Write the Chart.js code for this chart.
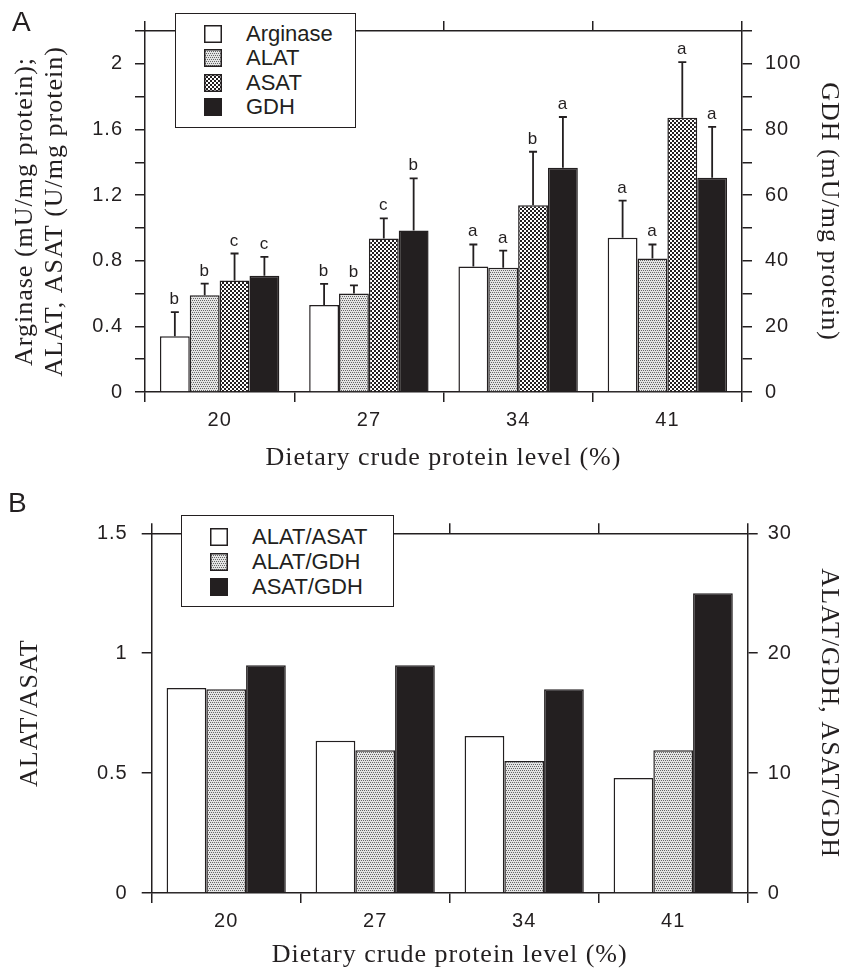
<!DOCTYPE html>
<html>
<head>
<meta charset="utf-8">
<script src="https://cdn.jsdelivr.net/npm/chart.js@4.4.1/dist/chart.umd.min.js"></script>
<style>
  body { margin: 0; background: #fff; }
  #wrap { position: relative; width: 842px; height: 975px; overflow: hidden; }
  canvas.plot { position: absolute; left: 0; }
  .panel { position: absolute; font: 28px "Liberation Sans", Arial, sans-serif; line-height: 1; color: #231f20; }
  .legend { position: absolute; background: #fff; border: 1.5px solid #231f20; box-sizing: border-box;
            font: 22px "Liberation Sans", Arial, sans-serif; color: #231f20; }
  .legend .row { position: absolute; height: 22px; line-height: 22px; white-space: nowrap; }
  .legend canvas { position: absolute; top: 2px; }
  .legend span { position: absolute; }
</style>
</head>
<body>
<div id="wrap">
  <canvas id="chartA" class="plot" width="842" height="490" style="top:0"></canvas>
  <canvas id="chartB" class="plot" width="842" height="485" style="top:490px"></canvas>
  <div class="panel" style="left:12px; top:8px">A</div>
  <div class="panel" style="left:8px; top:489px">B</div>
  <div id="legA" class="legend" style="left:175px; top:13px; width:181px; height:115px"></div>
  <div id="legB" class="legend" style="left:181px; top:515px; width:213px; height:92px"></div>
</div>
<script>
const INK = "#231f20";
const SERIF = '"Liberation Serif", "Times New Roman", serif';
const SANS = '"Liberation Sans", Arial, sans-serif';

const categories = ["20", "27", "34", "41"];

// panel A: enzyme activities, mean and error (SE)
const arginase = [0.34, 0.53, 0.765, 0.94];
const arginaseErr = [0.147, 0.129, 0.134, 0.226];
const alat = [0.59, 0.6, 0.757, 0.813];
const alatErr = [0.07, 0.05, 0.105, 0.086];
const asat = [0.679, 0.936, 1.138, 1.672];
const asatErr = [0.165, 0.122, 0.326, 0.338];
const gdh = [35.4, 49.2, 68.3, 65.3];
const gdhErr = [5.8, 15.9, 15.5, 15.5];

const arginaseLetters = ["b", "b", "a", "a"];
const alatLetters = ["b", "b", "a", "a"];
const asatLetters = ["c", "c", "b", "a"];
const gdhLetters = ["c", "b", "a", "a"];

const leftLabelsA = [0, 0.4, 0.8, 1.2, 1.6, 2];
const rightLabelsA = [0, 20, 40, 60, 80, 100];

// panel B: ratios
const alatAsat = [0.855, 0.635, 0.655, 0.48];
const alatGdh = [17.0, 11.9, 11.0, 11.9];
const asatGdh = [19.0, 19.0, 17.0, 25.0];

const leftLabelsB = [0, 0.5, 1, 1.5];
const rightLabelsB = [0, 10, 20, 30];

// small tiles used as bar fills
function makeTile(kind) {
  const c = document.createElement("canvas");
  c.width = 4; c.height = 4;
  const g = c.getContext("2d");
  if (kind === "stipple") {
    g.fillStyle = "#e4e4e4";
    g.fillRect(0, 0, 4, 4);
    g.fillStyle = "#666";
    g.fillRect(0, 0, 1, 1); g.fillRect(2, 0, 1, 1);
    g.fillRect(1, 2, 1, 1); g.fillRect(3, 2, 1, 1);
  } else {
    g.fillStyle = "#fff";
    g.fillRect(0, 0, 4, 4);
    g.fillStyle = INK;
    g.fillRect(0, 0, 2, 2); g.fillRect(2, 2, 2, 2);
  }
  return c;
}
const stippleTile = makeTile("stipple");
const checkTile = makeTile("check");

function fill(ctx, f) {
  if (f === "stipple") return ctx.createPattern(stippleTile, "repeat");
  if (f === "check") return ctx.createPattern(checkTile, "repeat");
  return f;
}

function labelCb(list) {
  return v => {
    const hit = list.find(t => Math.abs(t - v) < 1e-6);
    return hit === undefined ? "" : String(hit);
  };
}

const errorBars = {
  id: "errorBars",
  afterDatasetsDraw(chart) {
    const ctx = chart.ctx;
    ctx.save();
    ctx.strokeStyle = INK;
    ctx.fillStyle = INK;
    ctx.lineWidth = 1.8;
    ctx.font = "17px " + SANS;
    ctx.textAlign = "center";
    ctx.textBaseline = "alphabetic";
    chart.data.datasets.forEach((ds, i) => {
      if (!ds.errors) return;
      const scale = chart.scales[ds.yAxisID];
      chart.getDatasetMeta(i).data.forEach((bar, j) => {
        const yTop = scale.getPixelForValue(ds.data[j] + ds.errors[j]);
        ctx.beginPath();
        ctx.moveTo(bar.x, bar.y);
        ctx.lineTo(bar.x, yTop);
        ctx.moveTo(bar.x - 4, yTop);
        ctx.lineTo(bar.x + 4, yTop);
        ctx.stroke();
        if (ds.letters) ctx.fillText(ds.letters[j], bar.x, yTop - 8);
      });
    });
    ctx.restore();
  }
};

// the original lettering is widely spaced
const spacing = {
  id: "spacing",
  beforeDraw(chart) { chart.ctx.letterSpacing = "1px"; }
};

function lineAxis(extra) {
  return Object.assign({
    grid: { drawOnChartArea: false, tickLength: 10, color: INK, lineWidth: 1.5 },
    border: { display: true, color: INK, width: 1.5 }
  }, extra);
}

function buildChart(id, cfg) {
  const ctx = document.getElementById(id).getContext("2d");
  return new Chart(ctx, {
    type: "bar",
    data: {
      labels: categories,
      datasets: cfg.datasets.map(d => ({
        label: d.label,
        data: d.data,
        errors: d.errors,
        letters: d.letters,
        yAxisID: d.axis,
        fillKind: d.fill,
        backgroundColor: fill(ctx, d.fill),
        borderColor: INK,
        borderWidth: 1.5,
        categoryPercentage: 0.8,
        barPercentage: 1
      }))
    },
    options: {
      responsive: false,
      animation: false,
      devicePixelRatio: 1,
      layout: { padding: cfg.padding },
      plugins: { legend: { display: false }, tooltip: { enabled: false } },
      scales: {
        x: lineAxis({
          type: "category",
          position: "bottom",
          offset: true,
          grid: { offset: true, drawOnChartArea: false, tickLength: 10, color: INK, lineWidth: 1.5 },
          ticks: { color: INK, font: { family: SANS, size: 20 }, padding: 6, maxRotation: 0 },
          title: {
            display: true, text: "Dietary crude protein level (%)", color: INK,
            font: { family: SERIF, size: 26, lineHeight: 1.2 }, padding: { top: 0, bottom: 0 }
          },
          afterFit: s => { s.height = cfg.xHeight; }
        }),
        xTop: lineAxis({
          type: "category",
          position: "top",
          offset: true,
          grid: { offset: true, drawOnChartArea: false, tickLength: 10, color: INK, lineWidth: 1.5 },
          ticks: { display: false },
          afterFit: s => { s.height = 10; }
        }),
        y: lineAxis({
          position: "left",
          min: 0,
          max: cfg.leftMax,
          ticks: {
            stepSize: cfg.leftStep, autoSkip: false, color: INK,
            font: { family: SANS, size: 20 }, padding: cfg.leftPad, callback: labelCb(cfg.leftLabels)
          },
          title: {
            display: true, text: cfg.leftTitle, color: INK,
            font: { family: SERIF, size: 26, lineHeight: 30 / 26 }, padding: { top: cfg.leftTitlePad, bottom: 0 }
          },
          afterFit: s => { s.width = cfg.leftWidth; }
        }),
        y2: lineAxis({
          position: "right",
          min: 0,
          max: cfg.rightMax,
          ticks: {
            stepSize: cfg.rightStep, autoSkip: false, color: INK,
            font: { family: SANS, size: 20 }, padding: cfg.rightPad, callback: labelCb(cfg.rightLabels)
          },
          title: {
            display: true, text: cfg.rightTitle, color: INK,
            font: { family: SERIF, size: 26, lineHeight: 1 }, padding: { top: 0, bottom: 0 }
          },
          afterFit: s => { s.width = cfg.rightWidth; }
        })
      }
    },
    plugins: [errorBars, spacing]
  });
}

function buildLegend(elId, chart, rows, textX) {
  const box = document.getElementById(elId);
  chart.data.datasets.forEach((ds, i) => {
    const row = document.createElement("div");
    row.className = "row";
    row.style.top = (rows[i] - 11) + "px";
    row.style.left = "0px";
    const sw = document.createElement("canvas");
    sw.width = 18; sw.height = 18;
    sw.style.left = "28px";
    const g = sw.getContext("2d");
    g.fillStyle = fill(g, ds.fillKind);
    g.fillRect(0, 0, 18, 18);
    if (ds.fillKind !== INK) {
      g.strokeStyle = INK;
      g.lineWidth = 1.5;
      g.strokeRect(0.75, 0.75, 16.5, 16.5);
    }
    const tx = document.createElement("span");
    tx.textContent = ds.label;
    tx.style.left = textX + "px";
    row.appendChild(sw);
    row.appendChild(tx);
    box.appendChild(row);
  });
}

const chartA = buildChart("chartA", {
  datasets: [
    { label: "Arginase", data: arginase, errors: arginaseErr, letters: arginaseLetters, axis: "y", fill: "#ffffff" },
    { label: "ALAT", data: alat, errors: alatErr, letters: alatLetters, axis: "y", fill: "stipple" },
    { label: "ASAT", data: asat, errors: asatErr, letters: asatLetters, axis: "y", fill: "check" },
    { label: "GDH", data: gdh, errors: gdhErr, letters: gdhLetters, axis: "y2", fill: INK }
  ],
  padding: { top: 21, bottom: 16.4, left: 0, right: 0 },
  xHeight: 81.6,
  leftWidth: 145, rightWidth: 100,
  leftMax: 2.2, leftStep: 0.2, leftLabels: leftLabelsA, leftPad: 12,
  rightMax: 110, rightStep: 10, rightLabels: rightLabelsA, rightPad: 13,
  leftTitle: ["Arginase (mU/mg protein);", "ALAT, ASAT (U/mg protein)"], leftTitlePad: 10,
  rightTitle: "GDH (mU/mg protein)"
});

const chartB = buildChart("chartB", {
  datasets: [
    { label: "ALAT/ASAT", data: alatAsat, axis: "y", fill: "#ffffff" },
    { label: "ALAT/GDH", data: alatGdh, axis: "y2", fill: "stipple" },
    { label: "ASAT/GDH", data: asatGdh, axis: "y2", fill: INK }
  ],
  padding: { top: 33.3, bottom: 4.4, left: 0, right: 0 },
  xHeight: 77.6,
  leftWidth: 151.7, rightWidth: 94.3,
  leftMax: 1.5, leftStep: 0.5, leftLabels: leftLabelsB, leftPad: 14,
  rightMax: 30, rightStep: 10, rightLabels: rightLabelsB, rightPad: 10,
  leftTitle: "ALAT/ASAT", leftTitlePad: 15,
  rightTitle: "ALAT/GDH, ASAT/GDH"
});

buildLegend("legA", chartA, [20.3, 44.3, 68.5, 93], 70);
buildLegend("legB", chartB, [21, 46, 70.5], 70);
</script>
</body>
</html>
